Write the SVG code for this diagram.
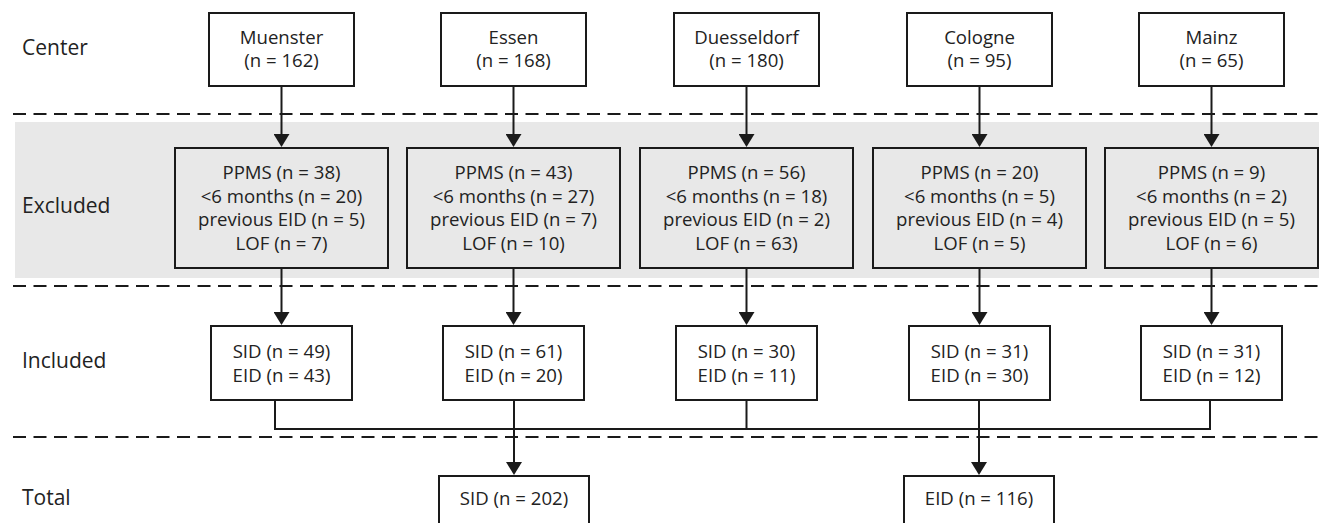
<svg xmlns="http://www.w3.org/2000/svg" width="1322" height="523" viewBox="0 0 1322 523">
<style>
.box{fill:#fff;stroke:#1a1a1a;stroke-width:2}
.gbox{fill:#e8e8e8;stroke:#1a1a1a;stroke-width:2}
.t{font-family:"Open Sans","Noto Sans",sans-serif;font-size:18.6px;fill:#222;text-anchor:middle}
.lbl{font-family:"Open Sans","Noto Sans",sans-serif;font-size:21px;fill:#222}
.dash{stroke:#1a1a1a;stroke-width:2;stroke-dasharray:13 7.5;fill:none}
.c{stroke:#1a1a1a;stroke-width:2;fill:none}
</style>
<defs>
<marker id="ah" viewBox="0 0 13 16" refX="0" refY="8" markerWidth="13" markerHeight="16" markerUnits="userSpaceOnUse" orient="auto">
<path d="M0,0 L13,8 L0,16 z" fill="#1a1a1a"/>
</marker>
</defs>
<rect width="1322" height="523" fill="#fff"/>
<rect x="15" y="122" width="1304" height="156" fill="#e8e8e8"/>
<g id="separators">
<line class="dash" x1="13" y1="114" x2="1318" y2="114"/>
<line class="dash" x1="13" y1="286" x2="1318" y2="286"/>
<line class="dash" x1="13" y1="437" x2="1318" y2="437"/>
</g>
<g id="row-labels">
<text class="lbl" x="22" y="55">Center</text>
<text class="lbl" x="22" y="213">Excluded</text>
<text class="lbl" x="22" y="368">Included</text>
<text class="lbl" x="22" y="505">Total</text>
</g>
<g id="connectors">
<line class="c" x1="281.5" y1="86" x2="281.5" y2="134" marker-end="url(#ah)"/>
<line class="c" x1="513.5" y1="86" x2="513.5" y2="134" marker-end="url(#ah)"/>
<line class="c" x1="746.5" y1="86" x2="746.5" y2="134" marker-end="url(#ah)"/>
<line class="c" x1="979.5" y1="86" x2="979.5" y2="134" marker-end="url(#ah)"/>
<line class="c" x1="1211.5" y1="86" x2="1211.5" y2="134" marker-end="url(#ah)"/>
<line class="c" x1="281.5" y1="268" x2="281.5" y2="312" marker-end="url(#ah)"/>
<line class="c" x1="513.5" y1="268" x2="513.5" y2="312" marker-end="url(#ah)"/>
<line class="c" x1="746.5" y1="268" x2="746.5" y2="312" marker-end="url(#ah)"/>
<line class="c" x1="979.5" y1="268" x2="979.5" y2="312" marker-end="url(#ah)"/>
<line class="c" x1="1211.5" y1="268" x2="1211.5" y2="312" marker-end="url(#ah)"/>
<polyline class="c" points="275,400 275,429 1210,429 1210,400"/>
<line class="c" x1="746.5" y1="400" x2="746.5" y2="429"/>
<line class="c" x1="514" y1="400" x2="514" y2="462" marker-end="url(#ah)"/>
<line class="c" x1="979" y1="400" x2="979" y2="462" marker-end="url(#ah)"/>
</g>
<g id="center-muenster"><rect class="box" x="209" y="13" width="145" height="73"/><text class="t" x="281.5" y="43.5">Muenster</text><text class="t" x="281.5" y="67">(n = 162)</text></g>
<g id="center-essen"><rect class="box" x="441" y="13" width="145" height="73"/><text class="t" x="513.5" y="43.5">Essen</text><text class="t" x="513.5" y="67">(n = 168)</text></g>
<g id="center-duesseldorf"><rect class="box" x="674" y="13" width="145" height="73"/><text class="t" x="746.5" y="43.5">Duesseldorf</text><text class="t" x="746.5" y="67">(n = 180)</text></g>
<g id="center-cologne"><rect class="box" x="907" y="13" width="145" height="73"/><text class="t" x="979.5" y="43.5">Cologne</text><text class="t" x="979.5" y="67">(n = 95)</text></g>
<g id="center-mainz"><rect class="box" x="1139" y="13" width="145" height="73"/><text class="t" x="1211.5" y="43.5">Mainz</text><text class="t" x="1211.5" y="67">(n = 65)</text></g>
<g id="excl-muenster"><rect class="gbox" x="175" y="148" width="213" height="120"/><text class="t" x="281.5" y="179">PPMS (n = 38)</text><text class="t" x="281.5" y="202.5">&lt;6 months (n = 20)</text><text class="t" x="281.5" y="226">previous EID (n = 5)</text><text class="t" x="281.5" y="249.5">LOF (n = 7)</text></g>
<g id="excl-essen"><rect class="gbox" x="407" y="148" width="213" height="120"/><text class="t" x="513.5" y="179">PPMS (n = 43)</text><text class="t" x="513.5" y="202.5">&lt;6 months (n = 27)</text><text class="t" x="513.5" y="226">previous EID (n = 7)</text><text class="t" x="513.5" y="249.5">LOF (n = 10)</text></g>
<g id="excl-duesseldorf"><rect class="gbox" x="640" y="148" width="213" height="120"/><text class="t" x="746.5" y="179">PPMS (n = 56)</text><text class="t" x="746.5" y="202.5">&lt;6 months (n = 18)</text><text class="t" x="746.5" y="226">previous EID (n = 2)</text><text class="t" x="746.5" y="249.5">LOF (n = 63)</text></g>
<g id="excl-cologne"><rect class="gbox" x="873" y="148" width="213" height="120"/><text class="t" x="979.5" y="179">PPMS (n = 20)</text><text class="t" x="979.5" y="202.5">&lt;6 months (n = 5)</text><text class="t" x="979.5" y="226">previous EID (n = 4)</text><text class="t" x="979.5" y="249.5">LOF (n = 5)</text></g>
<g id="excl-mainz"><rect class="gbox" x="1105" y="148" width="213" height="120"/><text class="t" x="1211.5" y="179">PPMS (n = 9)</text><text class="t" x="1211.5" y="202.5">&lt;6 months (n = 2)</text><text class="t" x="1211.5" y="226">previous EID (n = 5)</text><text class="t" x="1211.5" y="249.5">LOF (n = 6)</text></g>
<g id="incl-muenster"><rect class="box" x="211" y="326" width="141" height="74"/><text class="t" x="281.5" y="358">SID (n = 49)</text><text class="t" x="281.5" y="381.5">EID (n = 43)</text></g>
<g id="incl-essen"><rect class="box" x="443" y="326" width="141" height="74"/><text class="t" x="513.5" y="358">SID (n = 61)</text><text class="t" x="513.5" y="381.5">EID (n = 20)</text></g>
<g id="incl-duesseldorf"><rect class="box" x="676" y="326" width="141" height="74"/><text class="t" x="746.5" y="358">SID (n = 30)</text><text class="t" x="746.5" y="381.5">EID (n = 11)</text></g>
<g id="incl-cologne"><rect class="box" x="909" y="326" width="141" height="74"/><text class="t" x="979.5" y="358">SID (n = 31)</text><text class="t" x="979.5" y="381.5">EID (n = 30)</text></g>
<g id="incl-mainz"><rect class="box" x="1141" y="326" width="141" height="74"/><text class="t" x="1211.5" y="358">SID (n = 31)</text><text class="t" x="1211.5" y="381.5">EID (n = 12)</text></g>
<g id="total-sid"><rect class="box" x="439" y="476" width="150" height="60"/><text class="t" x="514" y="505">SID (n = 202)</text></g>
<g id="total-eid"><rect class="box" x="904" y="476" width="150" height="60"/><text class="t" x="979" y="505">EID (n = 116)</text></g>
</svg>
